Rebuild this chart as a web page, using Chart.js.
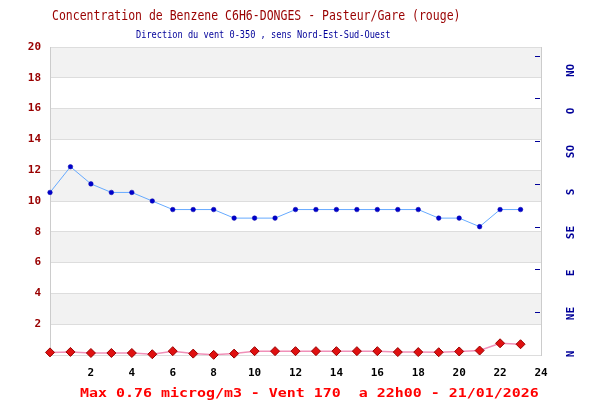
<!DOCTYPE html>
<html>
<head>
<meta charset="utf-8">
<script src="https://cdn.jsdelivr.net/npm/chart.js@4"></script>
<style>
html,body{margin:0;padding:0;background:#fff;}
canvas{display:block;}
</style>
</head>
<body>
<canvas id="c" width="600" height="400"></canvas>
<script>
// ---- data ----
const hours = [0,1,2,3,4,5,6,7,8,9,10,11,12,13,14,15,16,17,18,19,20,21,22,23];
const benzene = [0.17,0.20,0.13,0.13,0.13,0.05,0.25,0.09,0.01,0.09,0.25,0.25,0.25,0.25,0.25,0.25,0.25,0.19,0.19,0.18,0.23,0.29,0.76,0.70];
const windDir = [190,220,200,190,190,180,170,170,170,160,160,160,170,170,170,170,170,170,170,160,160,150,170,170];
const xTicks = [0,2,4,6,8,10,12,14,16,18,20,22,24];
const yTicks = [0,2,4,6,8,10,12,14,16,18,20];
const dirTickValues = [0,50,100,150,200,250,300,350];
const dirLabels = ['N','NE','E','SE','S','SO','O','NO'];
const titleText = 'Concentration de Benzene C6H6-DONGES - Pasteur/Gare (rouge)';
const subtitleText = 'Direction du vent 0-350 , sens Nord-Est-Sud-Ouest';
const footerText = 'Max 0.76 microg/m3 - Vent 170  a 22h00 - 21/01/2026';

const MONO = '"DejaVu Sans Mono", monospace';

const bandsPlugin = {
  id: 'bands',
  beforeDraw(chart) {
    const {ctx, chartArea} = chart;
    const y = chart.scales.y;
    ctx.save();
    ctx.fillStyle = '#f2f2f2';
    for (let v = 2; v < 20; v += 4) {
      const top = y.getPixelForValue(v + 2);
      const bot = y.getPixelForValue(v);
      ctx.fillRect(chartArea.left, top, chartArea.right - chartArea.left, bot - top);
    }
    ctx.restore();
  }
};

function stretchedText(ctx, text, x, y, font, color, sy) {
  ctx.save();
  ctx.font = font;
  ctx.fillStyle = color;
  ctx.textAlign = 'left';
  ctx.textBaseline = 'alphabetic';
  ctx.translate(x, y);
  ctx.scale(1, sy);
  ctx.fillText(text, 0, 0);
  ctx.restore();
}

const decorPlugin = {
  id: 'decor',
  afterDraw(chart) {
    const {ctx, chartArea} = chart;
    const y2 = chart.scales.y2;
    // right-side direction tick marks (inside plot)
    ctx.save();
    ctx.strokeStyle = '#000099';
    ctx.lineWidth = 1;
    dirTickValues.forEach(v => {
      if (v === 0) return;
      const py = Math.round(y2.getPixelForValue(v)) + 0.5;
      ctx.beginPath();
      ctx.moveTo(chartArea.right - 6, py);
      ctx.lineTo(chartArea.right - 1, py);
      ctx.stroke();
    });
    ctx.restore();
    stretchedText(ctx, titleText, 52, 19.5, '11.5px ' + MONO, '#990000', 1.2);
    stretchedText(ctx, subtitleText, 136, 38.3, '8.65px ' + MONO, '#000099', 1.18);
    stretchedText(ctx, footerText, 80, 396.5, 'bold 14.95px ' + MONO, '#ff0000', 0.87);
  }
};

const tickFont = {family: MONO, weight: 'bold', size: 11};

new Chart(document.getElementById('c'), {
  type: 'line',
  data: {
    datasets: [
      {
        label: 'Direction',
        data: hours.map((h, i) => ({x: h, y: windDir[i]})),
        yAxisID: 'y2',
        borderColor: '#66aaff',
        borderWidth: 1,
        pointStyle: 'circle',
        pointRadius: 2.3,
        pointBackgroundColor: '#0000cc',
        pointBorderColor: '#0000aa',
        pointBorderWidth: 0.5,
        tension: 0,
        clip: false
      },
      {
        label: 'Benzene',
        data: hours.map((h, i) => ({x: h, y: benzene[i]})),
        yAxisID: 'y',
        borderColor: '#f090b8',
        borderWidth: 1.5,
        pointStyle: 'rectRot',
        pointRadius: 4.5,
        pointBackgroundColor: '#e01010',
        pointBorderColor: '#990000',
        pointBorderWidth: 1,
        tension: 0,
        clip: false
      }
    ]
  },
  options: {
    responsive: false,
    devicePixelRatio: 1,
    animation: false,
    events: [],
    layout: {padding: {top: 47, left: 0, right: 0, bottom: 0}},
    plugins: {legend: {display: false}, title: {display: false}, tooltip: {enabled: false}},
    scales: {
      x: {
        type: 'linear',
        min: 0, max: 24,
        afterBuildTicks(s) { s.ticks = xTicks.map(v => ({value: v})); },
        afterFit(s) { s.height = 45; },
        grid: {display: false, drawTicks: false},
        border: {display: false},
        ticks: {
          font: tickFont, color: '#000000', padding: 12,
          maxRotation: 0, autoSkip: false,
          callback: v => (v === 0 ? '' : String(v))
        }
      },
      y: {
        type: 'linear', position: 'left',
        min: 0, max: 20,
        afterBuildTicks(s) { s.ticks = yTicks.map(v => ({value: v})); },
        afterFit(s) { s.width = 50; },
        grid: {color: '#dddddd', drawTicks: false},
        border: {display: true, color: '#cccccc'},
        ticks: {
          font: tickFont, color: '#990000', padding: 9,
          callback: v => (v === 0 ? '' : String(v))
        }
      },
      y2: {
        type: 'linear', position: 'right',
        min: 0, max: 360,
        display: false
      },
      y3: {
        type: 'linear', position: 'right',
        min: -1.2, max: 379,
        afterBuildTicks(s) { s.ticks = dirTickValues.map(v => ({value: v})); },
        afterFit(s) { s.width = 59; },
        grid: {display: false, drawTicks: false},
        border: {display: true, color: '#cccccc'},
        ticks: {
          font: tickFont, color: '#000099', padding: 24,
          minRotation: 90, maxRotation: 90, crossAlign: 'center',
          callback: v => dirLabels[dirTickValues.indexOf(v)] || ''
        }
      }
    }
  },
  plugins: [bandsPlugin, decorPlugin]
});
</script>
</body>
</html>
